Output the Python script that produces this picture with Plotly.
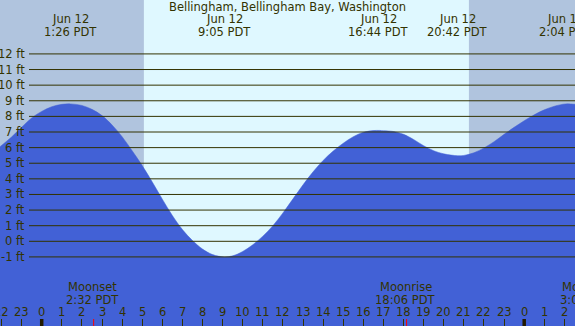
import plotly.graph_objects as go

# ---- data (hours since Jun 12 00:00 PDT) ----
tide_hours = [-2.1, -1.5, -1, -0.5, 0, 0.5, 1, 1.43, 2, 2.5, 3, 3.5, 4, 4.5, 5, 5.5, 6, 6.5,
              7, 7.5, 8, 8.5, 9.08, 9.5, 10, 10.5, 11, 11.5, 12, 12.5, 13, 13.5, 14, 14.5,
              15, 15.5, 16, 16.5, 16.8, 17, 17.5, 18, 18.5, 19, 19.5, 20, 20.7, 21, 21.5,
              22, 22.5, 23, 23.5, 24, 24.5, 25, 25.5, 26.07, 26.6]
tide_feet = [6.03, 6.68, 7.3, 7.9, 8.32, 8.62, 8.77, 8.8, 8.7, 8.45, 8.05, 7.45, 6.7, 5.8,
             4.85, 3.8, 2.7, 1.65, 0.75, 0.05, -0.5, -0.85, -1.0, -0.93, -0.65, -0.22,
             0.33, 1.0, 1.82, 2.72, 3.62, 4.45, 5.18, 5.78, 6.28, 6.7, 6.98, 7.09, 7.1,
             7.08, 7.03, 6.85, 6.52, 6.12, 5.8, 5.6, 5.48, 5.5, 5.67, 5.98, 6.38, 6.85,
             7.3, 7.72, 8.1, 8.42, 8.65, 8.8, 8.76]

extreme_hours = [1.433, 9.083, 16.733, 20.7, 26.067]
extreme_days = ["Jun 12", "Jun 12", "Jun 12", "Jun 12", "Jun 13"]
extreme_times = ["1:26 PDT", "9:05 PDT", "16:44 PDT", "20:42 PDT", "2:04 PDT"]

moon_hours = [2.533, 18.1, 27.08]
moon_events = ["Moonset", "Moonrise", "Moonset"]
moon_times = ["2:32 PDT", "18:06 PDT", "3:05 PDT"]

sunrise_hour = 5.083
sunset_hour = 21.25

feet_levels = list(range(-1, 13))
feet_labels = [f"{v} ft" for v in feet_levels]
hour_ticks = list(range(-2, 27))
hour_labels = [str(h % 24) for h in hour_ticks]
midnight_hours = [0, 24]

title_text = "Bellingham, Bellingham Bay, Washington"

# ---- style ----
X_RANGE = [-2.074, 26.527]
Y_RANGE = [-5.424, 15.453]
W, H = 575, 326
NIGHT = "#B0C4DE"
DAY = "#DFF8FF"
FILL = "#4261D6"
INK = "#333300"
FONT = dict(family="DejaVu Sans", size=11.5, color=INK)

fig = go.Figure()
fig.add_trace(go.Scatter(x=tide_hours, y=[Y_RANGE[0]] * len(tide_hours), mode="lines",
                         line=dict(width=0, color=FILL), hoverinfo="skip", showlegend=False))
fig.add_trace(go.Scatter(x=tide_hours, y=tide_feet, mode="lines", fill="tonexty",
                         fillcolor=FILL, line=dict(color=FILL, width=0.5, shape="spline",
                                                   smoothing=1.0),
                         showlegend=False))

shapes = []
shapes.append(dict(type="rect", xref="x", yref="paper", x0=sunrise_hour, x1=sunset_hour,
                   y0=0, y1=1, fillcolor=DAY, line=dict(width=0), layer="below"))
for v in feet_levels:
    shapes.append(dict(type="line", xref="paper", yref="y", x0=29 / W, x1=1, y0=v, y1=v,
                       line=dict(color=INK, width=1), layer="above"))
for m in midnight_hours:
    shapes.append(dict(type="line", xref="x", yref="paper", x0=m, x1=m, y0=0, y1=7 / H,
                       line=dict(color="#221a00", width=3.5), layer="above"))
for m in moon_hours:
    shapes.append(dict(type="line", xref="x", yref="paper", x0=m + 0.05, x1=m + 0.05,
                       y0=0, y1=7 / H, line=dict(color="#FF0000", width=1), layer="above"))

ann = []
ann.append(dict(text=title_text, xref="paper", yref="paper", x=0.5, y=1 - 7 / H,
                showarrow=False, xanchor="center", yanchor="middle", font=FONT))
for h, d, t in zip(extreme_hours, extreme_days, extreme_times):
    ann.append(dict(text=d, xref="x", yref="paper", x=h, y=1 - 19.5 / H, showarrow=False,
                    xanchor="center", yanchor="middle", font=FONT))
    ann.append(dict(text=t, xref="x", yref="paper", x=h, y=1 - 32 / H, showarrow=False,
                    xanchor="center", yanchor="middle", font=FONT))
for v, lab in zip(feet_levels, feet_labels):
    ann.append(dict(text=lab, xref="paper", yref="y", x=27 / W, y=v, showarrow=False,
                    xanchor="right", yanchor="middle", font=FONT))
for h, e, t in zip(moon_hours, moon_events, moon_times):
    fx = (h - X_RANGE[0]) / (X_RANGE[1] - X_RANGE[0])
    ann.append(dict(text=e, xref="paper", yref="paper", x=fx, y=1 - 287 / H, showarrow=False,
                    xanchor="center", yanchor="middle", font=FONT))
    ann.append(dict(text=t, xref="paper", yref="paper", x=fx, y=1 - 299.5 / H, showarrow=False,
                    xanchor="center", yanchor="middle", font=FONT))
for h, lab in zip(hour_ticks, hour_labels):
    ann.append(dict(text=lab, xref="x", yref="paper", x=h, y=1 - 312 / H, showarrow=False,
                    xanchor="center", yanchor="middle", font=FONT))

fig.update_layout(
    width=W, height=H, margin=dict(l=0, r=0, t=0, b=0),
    paper_bgcolor=NIGHT, plot_bgcolor=NIGHT,
    shapes=shapes, annotations=ann, showlegend=False,
    xaxis=dict(range=X_RANGE, showgrid=False, zeroline=False, showline=False,
               tickvals=hour_ticks, ticks="inside", ticklen=7, tickwidth=1,
               tickcolor=INK, showticklabels=False, fixedrange=True),
    yaxis=dict(range=Y_RANGE, showgrid=False, zeroline=False, showline=False,
               showticklabels=False, ticks="", fixedrange=True),
)

fig.write_html("out.html", config={"displayModeBar": False},
               post_script="document.body.style.margin='0';document.body.style.overflow='hidden';")
